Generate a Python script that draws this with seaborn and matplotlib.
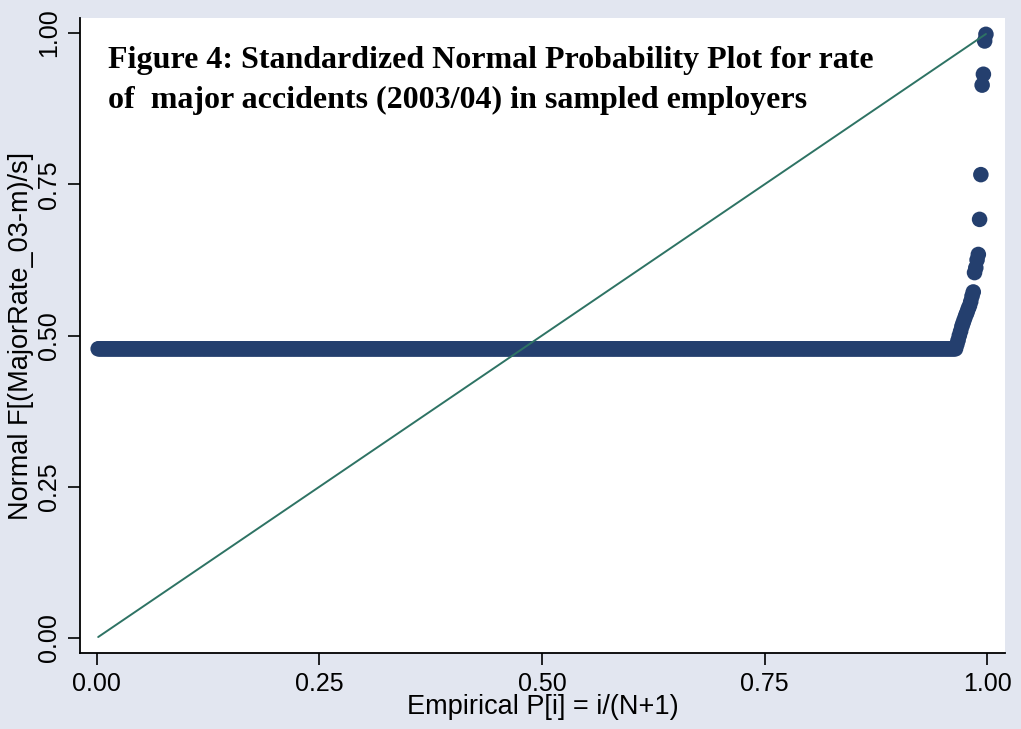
import numpy as np
import pandas as pd
import matplotlib
matplotlib.use("Agg")
import matplotlib.pyplot as plt
import seaborn as sns

# ---- data ----
n_flat = 678                 # employers with zero major-accident rate
flat_value = 0.478           # Normal F of the zero rate
tail_values = [0.485, 0.492, 0.500, 0.507, 0.515, 0.521, 0.527, 0.533,
               0.538, 0.544, 0.549, 0.556, 0.565, 0.572, 0.604, 0.612,
               0.625, 0.634, 0.692, 0.766, 0.914, 0.932, 0.987, 0.998]
x_ticks = [0.0, 0.25, 0.5, 0.75, 1.0]
y_ticks = [0.0, 0.25, 0.5, 0.75, 1.0]
tick_labels = ["0.00", "0.25", "0.50", "0.75", "1.00"]
title_lines = ["Figure 4: Standardized Normal Probability Plot for rate",
               "of  major accidents (2003/04) in sampled employers"]
x_label = "Empirical P[i] = i/(N+1)"
y_label = "Normal F[(MajorRate_03-m)/s]"

normal_f = [flat_value] * n_flat + tail_values
N = len(normal_f)
empirical_p = [(i + 1) / (N + 1) for i in range(N)]
df = pd.DataFrame({"p": empirical_p, "F": normal_f})

# ---- style ----
bg = "#E2E6F0"
marker_col = "#243F6E"
line_col = "#2E7364"

sns.set_theme(style="white")
plt.rcParams["font.family"] = ["Liberation Sans", "DejaVu Sans"]

fig = plt.figure(figsize=(10.21, 7.29), dpi=100, facecolor=bg)
W, H = 1021, 729
ax = fig.add_axes([80 / W, (H - 653) / H, (1005 - 80) / W, (653 - 18) / H])
ax.set_facecolor("white")

sns.scatterplot(data=df, x="p", y="F", ax=ax, color=marker_col, s=125,
                linewidth=0, edgecolor="none", zorder=3, legend=False)
sns.lineplot(x=df["p"], y=df["p"], ax=ax, color=line_col, linewidth=1.4,
             zorder=4, legend=False)

ax.set_xlim(-0.019, 1.02)
ax.set_ylim(-0.025, 1.025)
ax.set_xticks(x_ticks)
ax.set_xticklabels(tick_labels)
ax.set_yticks(y_ticks)
ax.set_yticklabels(tick_labels, rotation=90, va="center")

for side in ["top", "right"]:
    ax.spines[side].set_visible(False)
for side in ["left", "bottom"]:
    ax.spines[side].set_color("black")
    ax.spines[side].set_linewidth(1.3)

ax.tick_params(axis="both", which="major", direction="out", length=8.5,
               width=1.2, color="black", labelsize=18, labelcolor="black",
               pad=5, left=True, bottom=True)

ax.set_xlabel(x_label, fontsize=19.5, color="black", labelpad=-1)
ax.set_ylabel(y_label, fontsize=19.5, color="black", labelpad=2)

for line, base_px in zip(title_lines, [68, 108]):
    ax.text(28 / 925, 1 - (base_px - 18) / 635, line, transform=ax.transAxes,
            fontsize=23, fontweight="bold", family="Liberation Serif",
            color="black", va="baseline", ha="left", zorder=5)

fig.savefig("out.png", dpi=100, facecolor=bg)
